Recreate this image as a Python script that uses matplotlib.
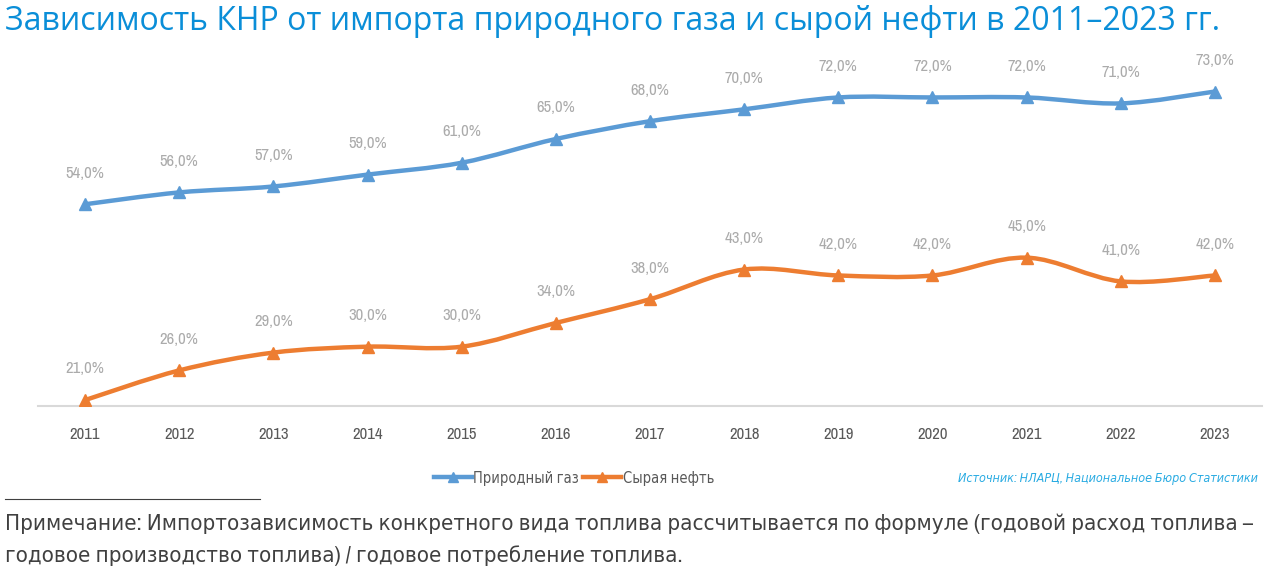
import numpy as np
import matplotlib
matplotlib.use("Agg")
from matplotlib import pyplot as plt
from matplotlib.path import Path
from matplotlib.patches import PathPatch
from matplotlib.lines import Line2D
from matplotlib import font_manager

years = ["2011", "2012", "2013", "2014", "2015", "2016", "2017",
         "2018", "2019", "2020", "2021", "2022", "2023"]
gas = [54, 56, 57, 59, 61, 65, 68, 70, 72, 72, 72, 71, 73]
oil = [21, 26, 29, 30, 30, 34, 38, 43, 42, 42, 45, 41, 42]
series_names = ["Природный газ", "Сырая нефть"]

title = "Зависимость КНР от импорта природного газа и сырой нефти в 2011–2023 гг."
source = "Источник: НЛАРЦ, Национальное Бюро Статистики"
note1 = ("Примечание: Импортозависимость конкретного вида топлива рассчитывается "
         "по формуле (годовой расход топлива –")
note2 = "годовое производство топлива) / годовое потребление топлива."

# is there a condensed face at all?
names = sorted({f.name for f in font_manager.fontManager.ttflist})
cond = [n for n in names if "Narrow" in n or "Condensed" in n]
NARROW = cond[:1] + ["DejaVu Sans"]
GAS_C = "#5B9BD5"
OIL_C = "#ED7D31"


def smooth_path(xs, ys):
    # catmull-rom -> cubic bezier, like excel's smoothed line
    pts = list(zip(xs, ys))
    verts = [pts[0]]
    codes = [Path.MOVETO]
    n = len(pts)
    for i in range(n - 1):
        p0 = pts[i - 1] if i > 0 else pts[i]
        p1 = pts[i]
        p2 = pts[i + 1]
        p3 = pts[i + 2] if i + 2 < n else pts[i + 1]
        c1 = (p1[0] + (p2[0] - p0[0]) / 6, p1[1] + (p2[1] - p0[1]) / 6)
        c2 = (p2[0] - (p3[0] - p1[0]) / 6, p2[1] - (p3[1] - p1[1]) / 6)
        verts += [c1, c2, p2]
        codes += [Path.CURVE4] * 3
    return Path(verts, codes)


fig = plt.figure(figsize=(12.76, 5.75), dpi=100)
ax = fig.add_axes([38 / 1276, 1 - 406 / 575, 1224 / 1276, 356 / 575])

x = np.arange(len(years))
for vals, col in [(gas, GAS_C), (oil, OIL_C)]:
    ax.add_patch(PathPatch(smooth_path(x, vals), fill=False, edgecolor=col,
                           lw=3.2, capstyle="round", zorder=2))
    ax.plot(x, vals, ls="none", marker="^", ms=8, color=col, zorder=3)
    for xi, v in zip(x, vals):
        ax.annotate(f"{v:.1f}%".replace(".", ","), (xi, v), xytext=(0, 17),
                    textcoords="offset points", ha="center", va="bottom",
                    fontsize=12, color="#ABABAB", family=NARROW, fontstretch="condensed")

ax.set_xlim(-0.5, len(years) - 0.5)
ax.set_ylim(20, 80)
ax.set_yticks([])
ax.set_xticks(x)
ax.set_xticklabels(years, fontsize=12, color="#595959", family=NARROW, fontstretch="condensed")
ax.tick_params(axis="x", length=0, pad=15)
for s in ["top", "right", "left"]:
    ax.spines[s].set_visible(False)
ax.spines["bottom"].set_color("#D9D9D9")
ax.spines["bottom"].set_linewidth(1.5)

fig.text(5 / 1276, 1 - 22 / 575, title, fontsize=23, color="#0A8ED8",
         family=["Open Sans", "DejaVu Sans"], va="center", ha="left")

handles = [Line2D([], [], color=GAS_C, lw=3.2, marker="^", ms=7),
           Line2D([], [], color=OIL_C, lw=3.2, marker="^", ms=7)]
fig.legend(handles, series_names, loc="center", bbox_to_anchor=(574 / 1276, 1 - 478 / 575),
           ncol=2, frameon=False, handlelength=2.6, handletextpad=0.1, columnspacing=0.3,
           prop={"family": NARROW, "size": 10.5, "stretch": "condensed"}, labelcolor="#595959")

fig.text(1258 / 1276, 1 - 479 / 575, source, fontsize=9, color="#29ABE2",
         style="italic", family=NARROW, fontstretch="condensed", ha="right", va="center")

fig.add_artist(Line2D([5 / 1276, 260 / 1276], [1 - 499 / 575] * 2, color="#404040", lw=0.8))

fig.text(5 / 1276, 1 - 524 / 575, note1, fontsize=16, color="#404040",
         family=NARROW, fontstretch="condensed", ha="left", va="center")
fig.text(5 / 1276, 1 - 556 / 575, note2, fontsize=16, color="#404040",
         family=NARROW, fontstretch="condensed", ha="left", va="center")

fig.savefig("out.png", dpi=100)
